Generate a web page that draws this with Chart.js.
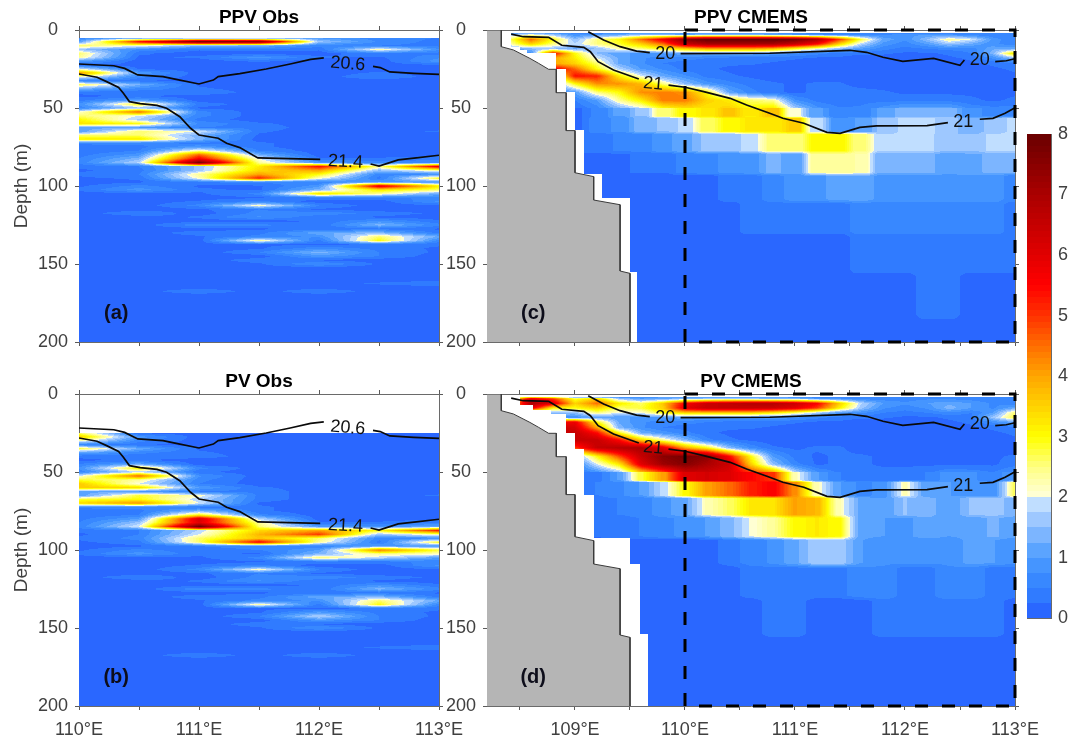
<!DOCTYPE html>
<html>
<head>
<meta charset="utf-8">
<title>PPV and PV sections</title>
<script src="https://cdn.jsdelivr.net/npm/chart.js@4"></script>
<style>
  html, body { margin: 0; background: #fff; }
  #page { position: relative; width: 1077px; height: 740px; overflow: hidden; }
  canvas { position: absolute; }
</style>
</head>
<body>
<div id="page"></div>
<script>
// ---- tick labels ----
const depthTicks = [0, 50, 100, 150, 200];
const obsLonTicks = [110, 110.5, 111, 111.5, 112, 112.5, 113];
const cmemsLonTicks = [108.5, 109, 109.5, 110, 110.5, 111, 111.5, 112, 112.5, 113];
const colorTicks = [0, 1, 2, 3, 4, 5, 6, 7, 8];

// ---- observation sections, one row per depth, one column per station ----
const obsLon = [110, 110.5, 111, 111.5, 112, 112.5, 113];
const ppvObsDepth = [5, 7.5, 10, 12.5, 15, 17.5, 20, 22.5, 25, 27.5, 30, 32.5, 35, 37.5, 40, 42.5, 45, 47.5, 50, 52.5, 55, 57.5, 60, 62.5, 65, 67.5, 70, 72.5, 75, 77.5, 80, 82.5, 85, 87.5, 90, 92.5, 95, 97.5, 100, 102.5, 105, 107.5, 110, 112.5, 115, 117.5, 120, 122.5, 125, 127.5, 130, 132.5, 135, 137.5, 140, 142.5, 145, 147.5, 150, 152.5, 160, 162.5, 165, 167.5, 170, 200];
const ppvObs = [
  [.6, .6, .5, .6, .9, .6, .5],
  [1, 5.5, 8, 7.6, 1.6, .7, .4],
  [2.6, 2.2, 1.4, 1.3, .6, .5, .4],
  [1.6, .7, .3, .4, .3, 2.3, .8],
  [2.6, .3, .1, .1, .1, .5, .4],
  [2.4, .2, .3, .9, .3, .2, .7],
  [1, .1, .1, .3, .1, .1, .9],
  [.3, .1, .1, .1, .1, .1, .2],
  [2, .2, .1, .1, .1, .1, .1],
  [4.2, 1, .1, .1, .1, .3, .1],
  [2.2, .6, .1, .1, .1, .5, .1],
  [.6, .3, .1, .1, .1, .1, .1],
  [2.7, 1.3, .2, .1, .1, .1, .1],
  [1.4, .7, .3, .1, .1, .1, .1],
  [.3, .3, .5, .1, .1, .1, .1],
  [.2, .3, .1, .1, .1, .1, .1],
  [.4, 1, .1, .1, .1, .1, .1],
  [.8, 3, .4, .1, .1, .1, .1],
  [.6, 1.6, .2, .1, .1, .1, .1],
  [2.1, 4.6, .6, .1, .1, .1, .1],
  [2.6, 2, .6, .1, .1, .1, .1],
  [3.1, 1.7, .4, .1, .1, .1, .1],
  [3.3, 3, .7, .3, .1, .1, .1],
  [1.2, 1, .5, .4, .1, .1, .1],
  [1, 2.6, 2, .3, .1, .1, .3],
  [2.6, 2.6, 1.3, .2, .1, .1, .1],
  [3.2, 3.3, 1.4, .1, .1, .1, .1],
  [.6, .6, .4, .3, .1, .1, .1],
  [.3, .4, 1, .3, .1, .1, .1],
  [.3, .5, 2.4, .5, .1, .1, .2],
  [.4, .9, 4.6, 1.3, .1, .1, .2],
  [.5, 1.4, 5.6, 2, .3, .3, .4],
  [.6, 1.8, 7.8, 2.4, .9, .6, .7],
  [.3, .5, 1.6, 3.2, 5.4, 2.4, 5.8],
  [.2, .4, 1.6, 3.4, 4, 1.5, 2.4],
  [.3, .5, 2.4, 4, 3, .6, .7],
  [.2, .3, 2.2, 5.2, 2.2, .4, 3],
  [.1, .2, .5, .6, .5, 1, .8],
  [.2, .6, .2, .2, .9, 6, 3.2],
  [.3, .9, .3, .2, 1.4, 3.2, 2.6],
  [.1, .1, .2, .6, 3.4, 2.4, 1.2],
  [.1, .1, .1, .2, .4, .4, .6],
  [.1, .1, .3, .6, .1, .1, .8],
  [.1, .1, .6, 2.2, .5, .1, .2],
  [.1, .1, .2, .5, .2, .1, .1],
  [.1, .5, .1, .6, .7, .4, .2],
  [.1, .1, .3, .8, .3, .2, .1],
  [.1, .1, .1, .1, .3, .8, .3],
  [.1, .1, .7, .6, .3, 1.4, .6],
  [.1, .1, .1, .2, .3, .4, .2],
  [.1, .1, .4, .4, 1.2, 1.4, .4],
  [.1, .1, .2, .6, .8, 2.6, 1.2],
  [.1, .1, .1, 2.4, .4, 3, .6],
  [.1, .1, .1, .2, .2, .3, .3],
  [.1, .1, .1, .2, .7, .4, .2],
  [.1, .1, .1, .5, 1.4, .5, .2],
  [.1, .1, .1, .1, .9, .5, .1],
  [.1, .1, .1, .4, .2, .1, .1],
  [.1, .1, .1, .2, .8, .2, .1],
  [.1, .1, .1, .1, .1, .1, .1],
  [.1, .1, .1, .1, .1, .1, .1],
  [.1, .1, .1, .1, .1, .3, .5],
  [.1, .1, .1, .1, .1, .1, .1],
  [.1, .1, .5, .1, .5, .1, .1],
  [.1, .1, .1, .1, .1, .1, .1],
  [.1, .1, .1, .1, .1, .1, .1]
];
const pvObsDepth = [25, 27.5, 30, 32.5, 35, 37.5, 40, 42.5, 45, 47.5, 50, 52.5, 55, 57.5, 60, 62.5, 65, 67.5, 70, 72.5, 75, 77.5, 80, 82.5, 85, 87.5, 90, 92.5, 95, 97.5, 100, 102.5, 105, 107.5, 110, 112.5, 115, 117.5, 120, 122.5, 125, 127.5, 130, 132.5, 135, 137.5, 140, 142.5, 145, 147.5, 150, 152.5, 160, 162.5, 165, 167.5, 170, 200];
const pvObs = [
  [2.6, .2, .1, .1, .1, .1, .1],
  [3.6, .9, .1, .1, .1, .1, .1],
  [2.2, .6, .1, .1, .1, .1, .1],
  [.6, .3, .1, .1, .1, .1, .1],
  [2.8, 1.2, .2, .1, .1, .1, .1],
  [1.2, .6, .3, .1, .1, .1, .1],
  [.3, .3, .4, .1, .1, .1, .1],
  [.2, .3, .1, .1, .1, .1, .1],
  [.5, 1.2, .1, .1, .1, .1, .1],
  [.8, 3.2, .6, .1, .1, .1, .1],
  [.6, 1.8, .3, .1, .1, .1, .1],
  [2, 4.6, .8, .1, .1, .1, .1],
  [2.8, 2.4, .6, .1, .1, .1, .1],
  [3.6, 2, .5, .1, .1, .1, .1],
  [3.6, 3.4, 1, .3, .1, .1, .1],
  [1.2, 1, .5, .4, .1, .1, .1],
  [1, 2.8, 2.2, .4, .1, .1, .3],
  [2.8, 3, 1.8, .4, .1, .1, .1],
  [3.4, 4.2, 2, .2, .1, .1, .1],
  [.6, .6, .4, .3, .1, .1, .1],
  [.3, .4, 1.4, .3, .1, .1, .1],
  [.3, .5, 3, .6, .1, .1, .2],
  [.4, 1, 6.2, 1.8, .1, .1, .2],
  [.5, 1.6, 6, 2.4, .3, .3, .5],
  [.6, 2, 8, 2.6, 1, .8, 1.2],
  [.3, .5, 1.8, 3.4, 4, 3, 5.2],
  [.2, .5, 2, 3.8, 5, 1.6, 2.4],
  [.3, .6, 2.6, 3.6, 2.6, .6, .7],
  [.2, .4, 2.6, 5.6, 2.4, .4, 3],
  [.1, .2, .5, .7, .5, 1, .8],
  [.2, .6, .3, .5, 1, 4.4, 2.8],
  [.3, .9, .3, .2, 1.4, 2.4, 2.2],
  [.1, .1, .2, .6, 2.6, 1.8, 1],
  [.1, .1, .1, .2, .4, .4, .6],
  [.1, .1, .3, .6, .1, .1, .8],
  [.1, .1, .6, 2.2, .5, .1, .2],
  [.1, .1, .2, .5, .2, .1, .1],
  [.1, .5, .1, .6, .7, .4, .2],
  [.1, .1, .3, .8, .3, .2, .1],
  [.1, .1, .1, .1, .3, .8, .3],
  [.1, .1, .7, .6, .3, 1.4, .6],
  [.1, .1, .1, .2, .3, .4, .2],
  [.1, .1, .4, .4, 1.2, 1.4, .4],
  [.1, .1, .2, .6, .8, 2.6, 1.2],
  [.1, .1, .1, 2.4, .4, 3, .6],
  [.1, .1, .1, .2, .2, .3, .3],
  [.1, .1, .1, .2, 1, .4, .2],
  [.1, .1, .1, .5, 1.8, .5, .2],
  [.1, .1, .1, .1, .9, .5, .1],
  [.1, .1, .1, .4, .2, .1, .1],
  [.1, .1, .1, .2, .8, .2, .1],
  [.1, .1, .1, .1, .1, .1, .1],
  [.1, .1, .1, .1, .1, .1, .1],
  [.1, .1, .1, .1, .1, .3, .5],
  [.1, .1, .1, .1, .1, .1, .1],
  [.1, .1, .5, .1, .5, .1, .1],
  [.1, .1, .1, .1, .1, .1, .1],
  [.1, .1, .1, .1, .1, .1, .1]
];

// ---- model sections ----
const cmemsLon = [108.4, 108.6, 108.8, 109, 109.2, 109.4, 109.6, 109.8, 110, 110.2, 110.4, 110.6, 110.8, 111, 111.2, 111.4, 111.6, 111.8, 112, 112.2, 112.4, 112.6, 112.8, 113];
const cmemsDepth = [2, 3, 6, 9, 12, 15, 18, 21.5, 25, 29.5, 34.5, 40, 45, 52, 60, 72, 85, 100, 120, 142, 170, 200];
const ppvCmems = [
  [1, 1.2, 1, .6, .6, .8, 1, 1, .9, 1, 1, 1, 1, .8, .6, .5, .5, .5, .5, .6, .7, .6, .5, .5],
  [1.5, 2.2, 1.6, .8, 1, 1.2, 1.5, 1.4, 1.2, 1.4, 1.4, 1.4, 1.2, 1, .8, .7, .6, .7, .9, 1, .8, .6, .5, .5],
  [2.5, 4.5, 3, 1.5, 2.5, 3, 4.5, 5.8, 7.5, 8, 8, 8, 8, 7.8, 7, 5, 2.8, 1.2, .8, 1.5, 2.4, 2, .9, .5],
  [2.2, 3.5, 2.5, 1.8, 2.5, 2.8, 3.5, 4.5, 6.5, 7, 7, 7, 7, 6.5, 5.5, 3.5, 1.8, .9, .6, 1, 1.6, 1.2, .8, .6],
  [1.2, 1.4, 1.5, 1.2, 1.5, 2.3, 2.5, 3, 3.5, 4, 4, 4, 3.8, 3, 2.2, 1.5, 1, .6, .4, .5, .6, .6, 1.2, 1.2],
  [.8, .8, 5.5, 3, 1.5, 1, 1, 1, 1.2, 1.2, 1.2, 1.2, 1, .8, .6, .4, .3, .3, .2, .2, .3, .5, 1.4, 3.4],
  [.6, .6, 4, 3.2, 2, 1.2, .8, .6, .6, .5, .4, .4, .4, .3, .2, .2, .1, .1, .1, .1, .2, .3, .8, 1.5],
  [.6, .6, 4, 3.5, 2.6, 1.2, .8, .5, .4, .3, .3, .3, .2, .1, .1, .1, .1, .1, .1, .1, .1, .2, .3, .4],
  [.4, .4, 5.8, 4.6, 3, 1.8, 1, .7, .4, .3, .2, .1, .1, .1, .1, .1, .1, .1, .1, .1, .1, .1, .2, .3],
  [.4, .4, 2, 5.4, 5.2, 3.2, 2, 1.2, .8, .4, .3, .2, .1, .1, .1, .1, .1, .1, .1, .1, .1, .1, .1, .2],
  [.4, .4, 1, 3, 4.2, 4.2, 3.8, 2.5, 1.5, .9, .6, .4, .3, .2, .3, .3, .1, .1, .1, .1, .1, .1, .1, .1],
  [.4, .4, .6, 1, 2.5, 3, 4.2, 4.4, 4.2, 3, 1.2, .6, .3, .2, .3, .4, .4, .3, .2, .2, .2, .2, .2, .2],
  [.4, .4, .4, .5, 1, 2.4, 3.2, 4.4, 4.4, 3.5, 3.2, 2.6, 2.4, .8, .4, .3, .4, .4, .4, .4, .4, .3, .2, .3],
  [.3, .3, .3, .2, .5, 1, 1.5, 2.5, 3, 3.2, 3.6, 3.2, 3.6, 2, 1, .6, .6, 1, 1.4, 1.3, 1.4, .8, .7, .7],
  [.3, .3, .3, .2, .6, .8, 1.3, 1.5, 1.8, 2.6, 3, 3.2, 3.2, 3.5, 1.8, .8, 1, 1.5, 1.8, 1.8, 1.6, 1.3, 1.6, 1.8],
  [.3, .3, .3, .3, .4, .5, .6, .9, 1.2, 1.5, 1.5, 1.9, 2.5, 2.5, 3, 3, 2.5, 1.8, 1.8, 1.8, 1.5, 1.5, 1.8, 1.8],
  [.2, .2, .2, .2, .2, .2, .3, .3, .6, .7, .8, .9, 1.3, 1.1, 2.4, 2.4, 2.3, 1.3, 1.3, 1.3, 1.1, 1.2, 1.3, 1.3],
  [.1, .1, .1, .1, .1, .1, .1, .1, .1, .1, .4, .4, .6, .9, .9, 1.2, 1.2, .9, .9, .9, .9, .9, .9, .6],
  [.1, .1, .1, .1, .1, .1, .1, .1, .1, .1, .1, .4, .4, .4, .4, .4, .6, .6, .6, .6, .6, .6, .6, .4],
  [.1, .1, .1, .1, .1, .1, .1, .1, .1, .1, .1, .1, .1, .1, .1, .1, .4, .4, .4, .4, .4, .4, .4, .4],
  [.1, .1, .1, .1, .1, .1, .1, .1, .1, .1, .1, .1, .1, .1, .1, .1, .1, .1, .1, .4, .4, .1, .1, .1],
  [.1, .1, .1, .1, .1, .1, .1, .1, .1, .1, .1, .1, .1, .1, .1, .1, .1, .1, .1, .1, .1, .1, .1, .1]
];
const pvCmems = [
  [1.5, 3, 2.5, 1.2, 1, .8, .8, 1, 1, 1, 1, 1, 1, .8, .6, .5, .5, .5, .5, .6, .6, .5, .5, .5],
  [2.5, 6, 5, 2.8, 3.6, 1.6, 1, 1.2, 1.4, 1.6, 1.8, 1.6, 1.5, 1.4, 1, .8, .6, .6, .6, .7, .7, .6, .5, .5],
  [3, 7, 6, 3.5, 4.5, 3.2, 2.6, 3.6, 5.6, 6.4, 6.6, 6.8, 6.8, 6.4, 5.6, 3.6, 1.8, 1, .8, 1, 1.2, 1, .7, .6],
  [3, 6, 3, 3, 3.5, 2.6, 2.8, 3.5, 6, 6.5, 6.5, 6.5, 6.4, 6, 5, 3.2, 1.6, .8, .6, .8, 1.4, 1, .7, 1.2],
  [1, 1.2, 1.5, 1.5, 2.5, 2, 2, 3, 3.5, 3.6, 3.6, 3.6, 3.2, 2.6, 1.8, 1, .8, .5, .4, .5, .7, .5, 1, 2.6],
  [.8, .8, 1, .8, 1.2, 1, 1, 1, 1.2, 1, 1, 1, 1, .8, .6, .4, .3, .3, .2, .2, .3, .4, 1.6, 2.8],
  [.6, .6, 5.5, 5.8, 3, 1.2, .8, .6, .6, .5, .4, .4, .4, .3, .2, .2, .1, .1, .1, .1, .2, .3, .8, 1.2],
  [.6, .6, 6.5, 6.2, 4, 1.4, .8, .5, .4, .3, .3, .3, .2, .1, .1, .1, .1, .1, .1, .1, .1, .2, .3, .4],
  [.4, .4, 6.5, 6.5, 5.5, 3, 1.3, .9, .6, .3, .2, .1, .1, .1, .1, .1, .1, .1, .1, .1, .1, .1, .2, .3],
  [.4, .4, 6, 6.5, 6.5, 5.5, 3.5, 2.4, 1.4, .6, .3, .2, .1, .1, .1, .1, .1, .1, .1, .1, .1, .1, .1, .2],
  [.4, .4, 1.5, 5, 6.5, 6.8, 7, 6, 4, 3, 1.5, .7, .3, .2, .3, .3, .1, .1, .1, .1, .1, .1, .1, .1],
  [.4, .4, .6, 1.2, 3, 4.8, 6.5, 7.5, 7.8, 7.5, 5.5, 3, 1, .4, .2, .3, .3, .2, .2, .2, .2, .2, .2, .3],
  [.4, .4, .4, .5, 2, 3.2, 6, 7.2, 7.6, 7, 6.4, 3.5, 1.5, .6, .2, .3, .3, .2, .2, .2, .2, .2, .2, .4],
  [.3, .3, .3, .3, .4, 1, 2.8, 4, 6, 6.2, 6, 5.5, 5, 2.2, 1, .5, .4, .4, .4, .5, .9, .8, .6, 1],
  [.3, .3, .3, .3, .5, .7, 1, 1.8, 3, 4, 4.5, 5.2, 5.6, 4.2, 2.2, 1, .7, .8, 2.2, 1, 1, .9, .8, 2.6],
  [.3, .3, .3, .3, .4, .5, .6, .9, 1.2, 2.2, 2.6, 3.2, 3.3, 4, 3.8, 2.2, 1.2, 1, 1.5, 1.4, 1, 1.5, 1.6, 1.4],
  [.2, .2, .2, .2, .3, .4, .5, .7, .8, 1, 1.4, 2, 2.4, 3, 3.2, 3, 1.1, 1, .9, 1.2, 1, 1.1, 1.3, 1.1],
  [.1, .1, .1, .1, .1, .1, .1, .1, .1, .1, .4, .6, .8, 1.2, 1.7, 1.7, 1, .8, .8, .8, .8, 1.1, 1, .8],
  [.1, .1, .1, .1, .1, .1, .1, .1, .1, .1, .1, .4, .4, .4, .4, .4, .7, .7, .4, .4, .7, .7, .4, .4],
  [.1, .1, .1, .1, .1, .1, .1, .1, .1, .1, .1, .1, .4, .4, .1, .1, .1, .4, .4, .4, .4, .4, .4, .1],
  [.1, .1, .1, .1, .1, .1, .1, .1, .1, .1, .1, .1, .1, .1, .1, .1, .1, .1, .1, .1, .1, .1, .1, .1],
  [.1, .1, .1, .1, .1, .1, .1, .1, .1, .1, .1, .1, .1, .1, .1, .1, .1, .1, .1, .1, .1, .1, .1, .1]
];
// first longitude with model data, for depths shallower than the given one
const ppvEdgeDepth = [11, 13, 15, 25, 40, 64, 92, 108, 155, 201];
const ppvEdgeLon = [108.42, 108.5, 108.56, 108.83, 108.92, 109, 109.08, 109.25, 109.5, 109.56];
const pvEdgeDepth = [7, 10, 13, 25, 35, 65, 92, 109, 154, 201];
const pvEdgeLon = [108.5, 108.62, 108.78, 108.92, 109, 109.08, 109.17, 109.5, 109.59, 109.66];

// ---- density contours (null = gap for the label) ----
const obsLine206Lon = [110, 110.29, 110.38, 110.49, 110.7, 110.81, 111, 111.12, 111.16, 111.34, 111.56, 111.76, 111.93, 112.04, null, 112.45, 112.51, 112.59, 112.79, 113];
const obsLine206Depth = [21.8, 22.9, 24.6, 28.8, 29.9, 31.6, 34.6, 32.1, 29.9, 28, 25, 21.8, 18.8, 17.9, null, 23.3, 24.1, 26.9, 27.8, 28.4];
const obsLine214Lon = [110, 110.15, 110.23, 110.33, 110.37, 110.42, 110.51, 110.65, 110.73, 110.84, 110.93, 111, 111.16, 111.23, 111.34, 111.49, 112.01, null, 112.43, 112.5, 112.66, 112.81, 113];
const obsLine214Depth = [28.2, 30.3, 33.1, 36.8, 40.6, 45.9, 47.2, 48.3, 50.2, 55.6, 63, 67.3, 69.4, 72.6, 75.4, 82, 82.9, null, 85.9, 87.2, 83.3, 82, 80.3];
const modelLine20Lon = [109.12, 109.26, 109.41, 109.56, 109.68, null, 109.96, 110.77, 111.5, 111.65, 111.8, 111.98, 112.26, 112.5, 112.54, null, 112.82, 112.92, 113];
const modelLine20Depth = [1.1, 6.4, 10.7, 13.5, 14.5, null, 15.2, 14.9, 13, 14.3, 17.5, 20.1, 18.2, 22.6, 19.2, null, 20.3, 19.7, 18.4];
const modelLine21Lon = [108.42, 108.53, 108.76, 108.88, 109.08, 109.14, 109.21, 109.35, 109.58, null, 109.85, 110, 110.17, 110.41, 110.56, 110.77, 110.89, 111.08, 111.29, 111.41, 111.59, 111.74, 112.2, 112.39, null, 112.68, 112.8, 112.91, 113];
const modelLine21Depth = [2.6, 4.3, 4.7, 9.8, 11.1, 13.9, 20.3, 25.6, 31.4, null, 35.3, 36.7, 39.5, 43.8, 48.1, 53.4, 56.6, 59.8, 65.6, 66.2, 62.4, 61.5, 61.3, 59.4, null, 57.2, 56.6, 53.4, 49.8];

// ---- sea floor and study region ----
const bottomLon = [108.2, 108.33, 108.33, 108.44, 108.59, 108.67, 108.76, 108.83, 108.83, 108.92, 108.92, 109, 109, 109.17, 109.17, 109.41, 109.41, 109.5, 109.5];
const bottomDepth = [0, 0, 10.7, 12.8, 18.2, 21.4, 25.2, 25.2, 40.2, 40.2, 64.5, 64.5, 91.5, 94, 109, 112, 154.5, 156, 200];
const regionLon = [110, 113, 113, 110, 110];
const regionDepth = [0, 0, 200, 200, 0];

// ---- colour bar ----
const colorLevels = [0, 8];
const colorStops = [
  [0, 42, 103, 255], [.5, 50, 130, 255], [1, 75, 155, 255], [1.5, 140, 190, 255], [2, 210, 232, 255],
  [2.001, 255, 255, 220], [2.5, 255, 255, 130], [3, 255, 255, 0], [3.5, 255, 210, 0], [4, 255, 165, 0],
  [4.5, 255, 110, 0], [5, 255, 50, 0], [5.5, 255, 0, 0], [6, 225, 0, 0], [7, 170, 0, 0], [8, 105, 0, 0]
];

const FONT = '"Liberation Sans", Arial, sans-serif';
const TICK_GRAY = '#5a5a5a';
const TEXT_GRAY = '#404040';

// value -> rgb, with contourf-like bands
const colorOf = (v) => {
  const step = v < 2 ? 0.25 : 0.1;
  let q = Math.floor(v / step) * step + step / 2;
  if (v < 2 && q > 2) q = 1.99;
  q = Math.max(0, Math.min(8, q));
  if (v < 0.25) q = 0;
  for (let i = 1; i < colorStops.length; i++) {
    const a = colorStops[i - 1], b = colorStops[i];
    if (q <= b[0]) {
      const t = (q - a[0]) / (b[0] - a[0]);
      return [a[1] + (b[1] - a[1]) * t, a[2] + (b[2] - a[2]) * t, a[3] + (b[3] - a[3]) * t];
    }
  }
  return colorStops[colorStops.length - 1].slice(1);
};

const bracket = (list, v) => {
  let i = 0;
  while (i < list.length - 2 && v > list[i + 1]) i++;
  const t = Math.max(0, Math.min(1, (v - list[i]) / (list[i + 1] - list[i])));
  return [i, t];
};

// narrows the ramp between two grid cells so the model levels read as blocks
const sharpen = (t, a) => Math.max(0, Math.min(1, (t - a) / (1 - 2 * a)));

// Filled field: every pixel of the plot area goes back through the chart's scales
const fieldPlugin = {
  id: 'fieldFill',
  beforeDatasetsDraw(chart, args, opts) {
    if (!opts.grid) return;
    const { left, top, width, height } = chart.chartArea;
    const xs = chart.scales.x, ys = chart.scales.y;
    const off = document.createElement('canvas');
    off.width = Math.round(width);
    off.height = Math.round(height);
    const octx = off.getContext('2d');
    const img = octx.createImageData(off.width, off.height);
    for (let py = 0; py < off.height; py++) {
      const depth = ys.getValueForPixel(top + py + 0.5);
      if (depth < opts.depth[0]) continue;
      const [r, tr0] = bracket(opts.depth, depth);
      const blocky = opts.blockFrom !== undefined && depth > opts.blockFrom;
      const tr = blocky ? sharpen(tr0, opts.blockY) : tr0;
      let edge = -Infinity;
      if (opts.edgeDepth) {
        const k = opts.edgeDepth.findIndex((d) => depth < d);
        edge = opts.edgeLon[k < 0 ? opts.edgeLon.length - 1 : k];
      }
      for (let px = 0; px < off.width; px++) {
        const lon = xs.getValueForPixel(left + px + 0.5);
        if (lon < edge) continue;
        const [c, tc0] = bracket(opts.lon, lon);
        const tc = blocky ? sharpen(tc0, opts.blockX) : tc0;
        const g = opts.grid;
        const v = (g[r][c] * (1 - tc) + g[r][c + 1] * tc) * (1 - tr) + (g[r + 1][c] * (1 - tc) + g[r + 1][c + 1] * tc) * tr;
        const rgb = colorOf(v);
        const o = (py * off.width + px) * 4;
        img.data[o] = rgb[0]; img.data[o + 1] = rgb[1]; img.data[o + 2] = rgb[2]; img.data[o + 3] = 255;
      }
    }
    octx.putImageData(img, 0, 0);
    const ctx = chart.ctx;
    ctx.save();
    ctx.beginPath();
    ctx.rect(left, top, width, height);
    ctx.clip();
    ctx.filter = opts.blur ? 'blur(' + opts.blur + 'px)' : 'none';
    ctx.drawImage(off, left, top);
    ctx.restore();
  }
};

// Contour labels and panel letters
const notePlugin = {
  id: 'notes',
  afterDatasetsDraw(chart, args, opts) {
    const ctx = chart.ctx;
    (opts.items || []).forEach((n) => {
      ctx.save();
      ctx.translate(chart.scales.x.getPixelForValue(n.lon), chart.scales.y.getPixelForValue(n.depth));
      ctx.rotate((n.angle || 0) * Math.PI / 180);
      ctx.font = n.font;
      ctx.fillStyle = n.color;
      ctx.textAlign = 'center';
      ctx.textBaseline = 'middle';
      ctx.fillText(n.text, 0, 0);
      ctx.restore();
    });
  }
};

const zip = (xs, ys) => xs.map((x, i) => ({ x: x === null ? NaN : x, y: ys[i] === null ? NaN : ys[i] }));
const lineSet = (xs, ys) => ({
  data: zip(xs, ys), showLine: true, pointRadius: 0, borderColor: '#0a0a0a', borderWidth: 1.7, spanGaps: false, fill: false, order: 1
});
const fixed = (size) => (scale) => {
  if (scale.isHorizontal()) scale.height = size; else scale.width = size;
};
const setTicks = (list) => (scale) => { scale.ticks = list.map((value) => ({ value })); };
const tickStyle = { display: true, drawOnChartArea: false, drawTicks: true, tickLength: 4, color: TICK_GRAY };
const edgeStyle = { display: true, color: '#6a6a6a', width: 1 };

const addCanvas = (left, top, w, h) => {
  const c = document.createElement('canvas');
  c.width = w; c.height = h;
  c.style.left = left + 'px';
  c.style.top = top + 'px';
  document.getElementById('page').appendChild(c);
  return c;
};

const RIGHT_ROOM = 36;

const makePanel = (p) => {
  const c = addCanvas(p.left, p.top, p.width, p.height);
  const xAxis = (extra) => Object.assign({
    type: 'linear', min: p.lonMin, max: 113, axis: 'x',
    afterBuildTicks: setTicks(p.lonTicks), grid: tickStyle, border: edgeStyle
  }, extra);
  const yAxis = (extra) => Object.assign({
    type: 'linear', min: 0, max: 200, reverse: true, axis: 'y',
    afterBuildTicks: setTicks(depthTicks), grid: tickStyle, border: edgeStyle
  }, extra);
  new Chart(c, {
    type: 'scatter',
    data: { datasets: p.datasets },
    plugins: [fieldPlugin, notePlugin],
    options: {
      responsive: false,
      animation: false,
      layout: { padding: 0 },
      plugins: {
        legend: { display: false },
        tooltip: { enabled: false },
        title: {
          display: true, text: p.title, fullSize: false, color: '#000',
          font: { family: FONT, size: 19, weight: 'bold', lineHeight: 1 }, padding: { top: 8, bottom: 1 }
        },
        fieldFill: {
          lon: p.lon, depth: p.depth, grid: p.grid, edgeDepth: p.edgeDepth, edgeLon: p.edgeLon, blur: 0.7,
          blockFrom: p.blockFrom, blockX: p.blockX, blockY: p.blockY
        },
        notes: { items: p.notes }
      },
      scales: {
        x: xAxis({
          position: 'bottom', afterFit: fixed(p.bottom),
          ticks: {
            display: p.showLon, autoSkip: false, maxRotation: 0, minRotation: 0, padding: 9, color: TEXT_GRAY,
            font: { family: FONT, size: 18 },
            callback: (v) => (Number.isInteger(v) ? v + '°E' : '')
          }
        }),
        x2: xAxis({ position: 'top', afterFit: fixed(2), ticks: { display: false } }),
        y: yAxis({
          position: 'left', afterFit: fixed(p.leftAxis),
          title: p.yTitle ? { display: true, text: 'Depth (m)', color: TEXT_GRAY, font: { family: FONT, size: 19 }, padding: { top: 10.6, bottom: 0 } } : { display: false },
          ticks: { autoSkip: false, crossAlign: 'center', padding: 7, color: TEXT_GRAY, font: { family: FONT, size: 18 } }
        }),
        y2: yAxis({ position: 'right', afterFit: fixed(RIGHT_ROOM), ticks: { display: false } })
      }
    }
  });
};

const letterFont = 'bold 20px ' + FONT;
const numFont = '18px ' + FONT;
const obsSets = () => [lineSet(obsLine206Lon, obsLine206Depth), lineSet(obsLine214Lon, obsLine214Depth)];
const obsNotes = (letter) => [
  { text: '20.6', lon: 112.24, depth: 21.8, angle: 5, font: numFont, color: '#111' },
  { text: '21.4', lon: 112.22, depth: 84.6, angle: 3, font: numFont, color: '#111' },
  { text: letter, lon: 110.31, depth: 181.5, font: letterFont, color: '#0d0d1a' }
];
const modelSets = () => [
  lineSet(modelLine20Lon, modelLine20Depth),
  lineSet(modelLine21Lon, modelLine21Depth),
  { data: zip(regionLon, regionDepth), showLine: true, pointRadius: 0, borderColor: '#000', borderWidth: 3, borderDash: [13, 14], clip: false, fill: false, order: 0 },
  { data: zip(bottomLon, bottomDepth), showLine: true, pointRadius: 0, borderColor: '#3a3a3a', borderWidth: 1, backgroundColor: '#b5b5b5', fill: { target: { value: 200 } }, order: 2 }
];
const modelNotes = (letter) => [
  { text: '20', lon: 109.82, depth: 15.4, font: numFont, color: '#111' },
  { text: '21', lon: 109.71, depth: 34.6, angle: 5, font: numFont, color: '#111' },
  { text: '20', lon: 112.68, depth: 19.2, font: numFont, color: '#111' },
  { text: '21', lon: 112.53, depth: 59, font: numFont, color: '#111' },
  { text: letter, lon: 108.62, depth: 181.5, font: letterFont, color: '#0d0d1a' }
];

makePanel({ title: 'PPV Obs', left: 0, top: 0, width: 439 + RIGHT_ROOM, height: 370, bottom: 28, leftAxis: 79, yTitle: true, showLon: false,
  lonMin: 110, lonTicks: obsLonTicks, lon: obsLon, depth: ppvObsDepth, grid: ppvObs, datasets: obsSets(), notes: obsNotes('(a)') });
makePanel({ title: 'PV Obs', left: 0, top: 364, width: 439 + RIGHT_ROOM, height: 376, bottom: 34, leftAxis: 79, yTitle: true, showLon: true,
  lonMin: 110, lonTicks: obsLonTicks, lon: obsLon, depth: pvObsDepth, grid: pvObs, datasets: obsSets(), notes: obsNotes('(b)') });
makePanel({ title: 'PPV CMEMS', left: 430, top: 0, width: 585 + RIGHT_ROOM, height: 370, bottom: 28, leftAxis: 57, yTitle: false, showLon: false,
  lonMin: 108.2, lonTicks: cmemsLonTicks, lon: cmemsLon, depth: cmemsDepth, grid: ppvCmems, edgeDepth: ppvEdgeDepth, edgeLon: ppvEdgeLon,
  blockFrom: 50, blockX: 0.25, blockY: 0.42, datasets: modelSets(), notes: modelNotes('(c)') });
makePanel({ title: 'PV CMEMS', left: 430, top: 364, width: 585 + RIGHT_ROOM, height: 376, bottom: 34, leftAxis: 57, yTitle: false, showLon: true,
  lonMin: 108.2, lonTicks: cmemsLonTicks, lon: cmemsLon, depth: cmemsDepth, grid: pvCmems, edgeDepth: pvEdgeDepth, edgeLon: pvEdgeLon,
  blockFrom: 50, blockX: 0.08, blockY: 0.42, datasets: modelSets(), notes: modelNotes('(d)') });

// colour bar, same field fill with the value running along the axis
const barCanvas = addCanvas(1016, 110, 61, 530);
new Chart(barCanvas, {
  type: 'scatter',
  data: { datasets: [{ data: [], pointRadius: 0 }] },
  plugins: [fieldPlugin],
  options: {
    responsive: false,
    animation: false,
    layout: { padding: 0 },
    plugins: {
      legend: { display: false },
      tooltip: { enabled: false },
      fieldFill: { lon: [0, 1], depth: colorLevels, grid: [[0, 0], [8, 8]] }
    },
    scales: {
      x: { type: 'linear', min: 0, max: 1, position: 'bottom', afterFit: fixed(21), afterBuildTicks: (s) => { s.ticks = []; }, grid: { display: false }, ticks: { display: false }, border: edgeStyle },
      x2: { type: 'linear', axis: 'x', min: 0, max: 1, position: 'top', afterFit: fixed(24), afterBuildTicks: (s) => { s.ticks = []; }, grid: { display: false }, ticks: { display: false }, border: edgeStyle },
      yl: { type: 'linear', axis: 'y', min: 0, max: 8, position: 'left', afterFit: fixed(11), afterBuildTicks: (s) => { s.ticks = []; }, grid: { display: false }, ticks: { display: false }, border: edgeStyle },
      y: {
        type: 'linear', min: 0, max: 8, position: 'right', afterFit: fixed(26),
        afterBuildTicks: setTicks(colorTicks),
        grid: { drawOnChartArea: false, drawTicks: true, tickLength: -4, color: TICK_GRAY },
        border: edgeStyle,
        ticks: { autoSkip: false, padding: 11, color: TEXT_GRAY, font: { family: FONT, size: 18 } }
      }
    }
  }
});
</script>
</body>
</html>
